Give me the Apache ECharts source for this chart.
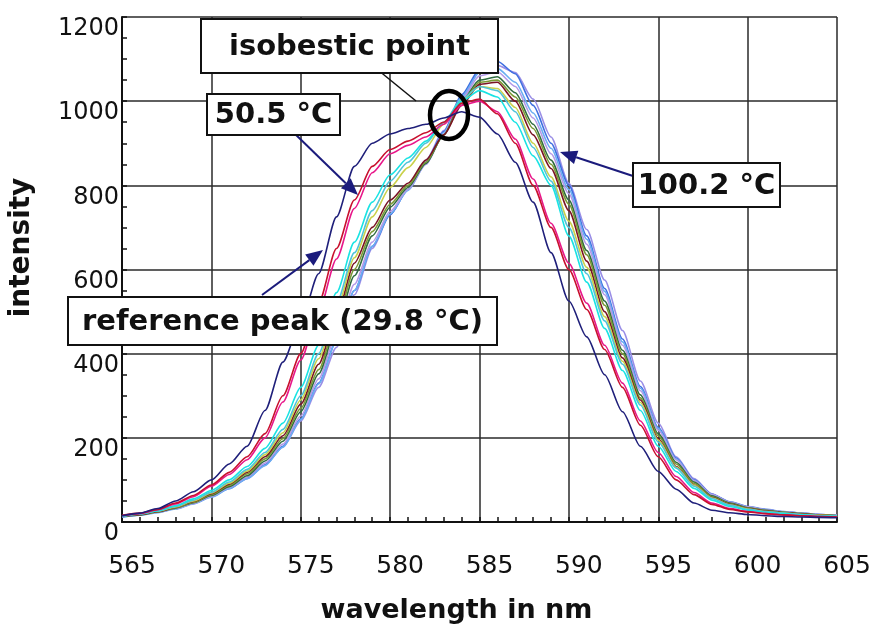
<!DOCTYPE html>
<html>
<head>
  <meta charset="UTF-8">
  <title>Emission spectra vs temperature</title>
  <style>
    html, body { margin: 0; padding: 0; background: #fff; }
    #chart { width: 875px; height: 631px; }
  </style>
  <script src="https://cdn.jsdelivr.net/npm/echarts@6/dist/echarts.min.js"></script>
</head>
<body>
  <div id="chart"></div>
  <script>
    // wavelength in nm, 1 nm steps
    var wavelengths = [565, 566, 567, 568, 569, 570, 571, 572, 573, 574, 575, 576, 577, 578, 579, 580, 581, 582, 583, 584, 585,
                       586, 587, 588, 589, 590, 591, 592, 593, 594, 595, 596, 597, 598, 599, 600, 601, 602, 603, 604, 605];

    // intensities, one array per temperature (low -> high)
    var navy = [15, 21, 32, 50, 72, 100, 138, 180, 265, 380, 475, 590, 725, 845, 900, 922, 935, 945, 960, 975, 962,
                922, 855, 760, 640, 525, 440, 350, 262, 180, 120, 78, 45, 28, 22, 18, 15, 13, 12, 11, 10];
    var crimson = [16, 21, 30, 45, 63, 88, 118, 155, 210, 300, 400, 520, 650, 765, 845, 885, 905, 925, 950, 995, 1005,
                   970, 900, 800, 700, 600, 505, 410, 320, 230, 155, 100, 65, 42, 30, 24, 20, 17, 15, 13, 12];
    var magenta = [15, 20, 29, 43, 60, 85, 113, 148, 200, 285, 385, 500, 625, 745, 830, 875, 895, 915, 945, 990, 1000,
                   975, 910, 815, 710, 615, 520, 420, 330, 240, 165, 108, 70, 45, 32, 25, 20, 17, 15, 13, 12];
    var cyan = [14, 19, 27, 39, 55, 75, 100, 132, 175, 235, 320, 420, 545, 665, 760, 825, 865, 905, 950, 1000, 1025,
                1010, 950, 870, 800, 680, 570, 460, 360, 265, 180, 120, 80, 52, 37, 28, 23, 20, 17, 15, 13];
    var turquoise = [14, 19, 26, 37, 52, 71, 95, 125, 165, 220, 300, 400, 520, 640, 740, 810, 855, 900, 950, 1005, 1035,
                     1025, 975, 890, 810, 700, 590, 478, 375, 278, 190, 128, 85, 56, 40, 30, 25, 21, 18, 15, 14];
    var yellowGreen = [14, 19, 26, 36, 50, 69, 92, 121, 160, 212, 290, 388, 505, 628, 725, 795, 842, 890, 945, 1003, 1035,
                       1030, 985, 900, 820, 715, 605, 488, 382, 284, 195, 130, 87, 57, 41, 31, 25, 21, 18, 16, 14];
    var maroon = [14, 18, 25, 35, 49, 67, 90, 118, 155, 205, 280, 375, 490, 615, 700, 765, 805, 860, 920, 990, 1040,
                  1045, 1000, 920, 840, 740, 620, 500, 390, 290, 198, 132, 88, 58, 42, 32, 26, 22, 19, 16, 14];
    var olive = [14, 18, 24, 34, 47, 65, 87, 114, 150, 198, 270, 362, 475, 600, 690, 755, 800, 855, 920, 995, 1045,
                 1050, 1010, 935, 850, 755, 635, 515, 400, 295, 205, 138, 92, 60, 43, 33, 27, 23, 20, 17, 15];
    var darkGreen = [13, 17, 24, 33, 46, 63, 84, 110, 145, 192, 262, 352, 462, 585, 680, 748, 795, 852, 920, 1000, 1050,
                     1058, 1020, 945, 860, 765, 645, 525, 408, 302, 210, 142, 95, 62, 45, 34, 28, 23, 20, 17, 15];
    var lightPurple = [13, 17, 23, 32, 44, 61, 82, 107, 140, 185, 252, 340, 445, 565, 665, 738, 790, 850, 922, 1005, 1060,
                       1070, 1035, 960, 875, 780, 660, 540, 420, 312, 218, 148, 98, 65, 47, 36, 29, 24, 21, 18, 16];
    var skyBlue = [12, 16, 22, 31, 43, 59, 79, 103, 134, 178, 243, 328, 430, 550, 655, 732, 788, 850, 925, 1010, 1068,
                   1078, 1045, 972, 888, 790, 672, 548, 428, 318, 222, 150, 99, 65, 47, 36, 29, 24, 21, 18, 16];
    var blue = [12, 17, 23, 32, 44, 60, 80, 104, 136, 180, 245, 330, 430, 550, 655, 730, 790, 855, 928, 1015, 1075,
                1095, 1065, 990, 900, 800, 680, 555, 435, 322, 225, 152, 100, 66, 48, 37, 30, 25, 21, 18, 16];
    var lavender = [13, 18, 25, 35, 47, 62, 80, 103, 135, 178, 240, 320, 415, 540, 650, 730, 790, 860, 930, 1010, 1070,
                    1085, 1068, 1005, 915, 805, 695, 575, 455, 335, 235, 155, 103, 67, 46, 35, 28, 24, 21, 18, 16];

    var curves = [
      { name: '100.2 °C', data: lavender, color: '#9a8ee6' },
      { name: 'blue', data: blue, color: '#3f6fe0' },
      { name: 'sky blue', data: skyBlue, color: '#6aaef2' },
      { name: 'light purple', data: lightPurple, color: '#b39ae8' },
      { name: 'dark green', data: darkGreen, color: '#2f6b3f' },
      { name: 'olive', data: olive, color: '#7b9a34' },
      { name: 'maroon', data: maroon, color: '#7a1424' },
      { name: 'yellow green', data: yellowGreen, color: '#c9d14b' },
      { name: 'turquoise', data: turquoise, color: '#4fc3d9' },
      { name: 'cyan', data: cyan, color: '#19e3e3' },
      { name: 'magenta', data: magenta, color: '#e8178a' },
      { name: '50.5 °C', data: crimson, color: '#c8102e' },
      { name: '29.8 °C', data: navy, color: '#1f1f7a' }
    ];

    var xTicks = { min: 565, max: 605, step: 5 };
    var yTicks = { min: 0, max: 1200, step: 200 };

    var chart = echarts.init(document.getElementById('chart'));

    var series = curves.map(function (c) {
      return {
        name: c.name,
        type: 'line',
        showSymbol: false,
        smooth: 0.25,
        smoothMonotone: 'x',
        lineStyle: { width: 1.6, color: c.color },
        itemStyle: { color: c.color },
        data: wavelengths.map(function (w, i) { return [w, c.data[i]]; })
      };
    });

    var ink = '#111';
    var arrowBlue = '#1b1b7c';
    var boxFont = 'bold 29px "DejaVu Sans"';

    function box(x, y, w, h, text) {
      return [
        { type: 'rect', z: 100, shape: { x: x, y: y, width: w, height: h },
          style: { fill: '#fff', stroke: ink, lineWidth: 2 } },
        { type: 'text', z: 101, x: x + w / 2, y: y + h / 2 + 1,
          style: { text: text, font: boxFont, fill: ink, align: 'center', verticalAlign: 'middle' } }
      ];
    }

    function arrow(x1, y1, x2, y2) {
      var dx = x2 - x1, dy = y2 - y1;
      var len = Math.sqrt(dx * dx + dy * dy);
      var ux = dx / len, uy = dy / len;
      var hl = 17, hw = 7;
      var bx = x2 - ux * hl, by = y2 - uy * hl;
      return [
        { type: 'line', z: 90, shape: { x1: x1, y1: y1, x2: bx, y2: by },
          style: { stroke: arrowBlue, lineWidth: 2 } },
        { type: 'polygon', z: 90,
          shape: { points: [[x2, y2], [bx - uy * hw, by + ux * hw], [bx + uy * hw, by - ux * hw]] },
          style: { fill: arrowBlue } }
      ];
    }

    var graphics = []
      .concat(arrow(293, 132, 358, 195))
      .concat(arrow(262, 295, 323, 250))
      .concat(arrow(633, 176, 560, 152))
      .concat([
        { type: 'line', z: 90, shape: { x1: 378, y1: 70, x2: 416, y2: 101 },
          style: { stroke: ink, lineWidth: 1.5 } },
        { type: 'ellipse', z: 95, shape: { cx: 449, cy: 115, rx: 19, ry: 24 },
          style: { fill: null, stroke: '#000', lineWidth: 4.5 } }
      ])
      .concat(box(201, 19, 297, 54, 'isobestic point'))
      .concat(box(207, 94, 133, 41, '50.5 °C'))
      .concat(box(633, 163, 147, 44, '100.2 °C'))
      .concat(box(68, 297, 429, 48, 'reference peak (29.8 °C)'));

    var option = {
      animation: false,
      backgroundColor: '#fff',
      grid: { left: 121, right: 38, top: 17, bottom: 109 },
      xAxis: {
        type: 'value',
        min: xTicks.min,
        max: xTicks.max,
        interval: xTicks.step,
        name: 'wavelength in nm',
        nameLocation: 'middle',
        nameGap: 75,
        nameTextStyle: { fontFamily: 'DejaVu Sans', fontWeight: 'bold', fontSize: 27, color: ink, padding: [0, 46, 0, 0] },
        axisLine: { lineStyle: { color: ink, width: 2 } },
        axisTick: { inside: true, length: 5, lineStyle: { color: ink, width: 1.5 } },
        minorTick: { show: true, splitNumber: 5, length: 5, lineStyle: { color: ink, width: 1.5 } },
        splitLine: { show: true, lineStyle: { color: '#2a2a2a', width: 1.5 } },
        axisLabel: { margin: 32, fontFamily: 'DejaVu Sans', fontSize: 25, color: ink, padding: [0, 0, 0, 20] }
      },
      yAxis: {
        type: 'value',
        min: yTicks.min,
        max: yTicks.max,
        interval: yTicks.step,
        name: 'intensity',
        nameLocation: 'middle',
        nameRotate: 90,
        nameGap: 86,
        nameTextStyle: { fontFamily: 'DejaVu Sans', fontWeight: 'bold', fontSize: 28, color: ink, padding: [0, 0, 0, 44] },
        axisLine: { show: true, lineStyle: { color: ink, width: 2 } },
        axisTick: { show: true, inside: true, length: 5, lineStyle: { color: ink, width: 1.5 } },
        minorTick: { show: true, splitNumber: 4, length: 5, lineStyle: { color: ink, width: 1.5 } },
        splitLine: { show: true, lineStyle: { color: '#2a2a2a', width: 1.5 } },
        axisLabel: {
          margin: 3, fontFamily: 'DejaVu Sans', fontSize: 24, color: ink, verticalAlign: 'top',
          formatter: function (v) { return String(v); }
        }
      },
      series: series,
      graphic: graphics
    };

    chart.setOption(option);
  </script>
</body>
</html>
